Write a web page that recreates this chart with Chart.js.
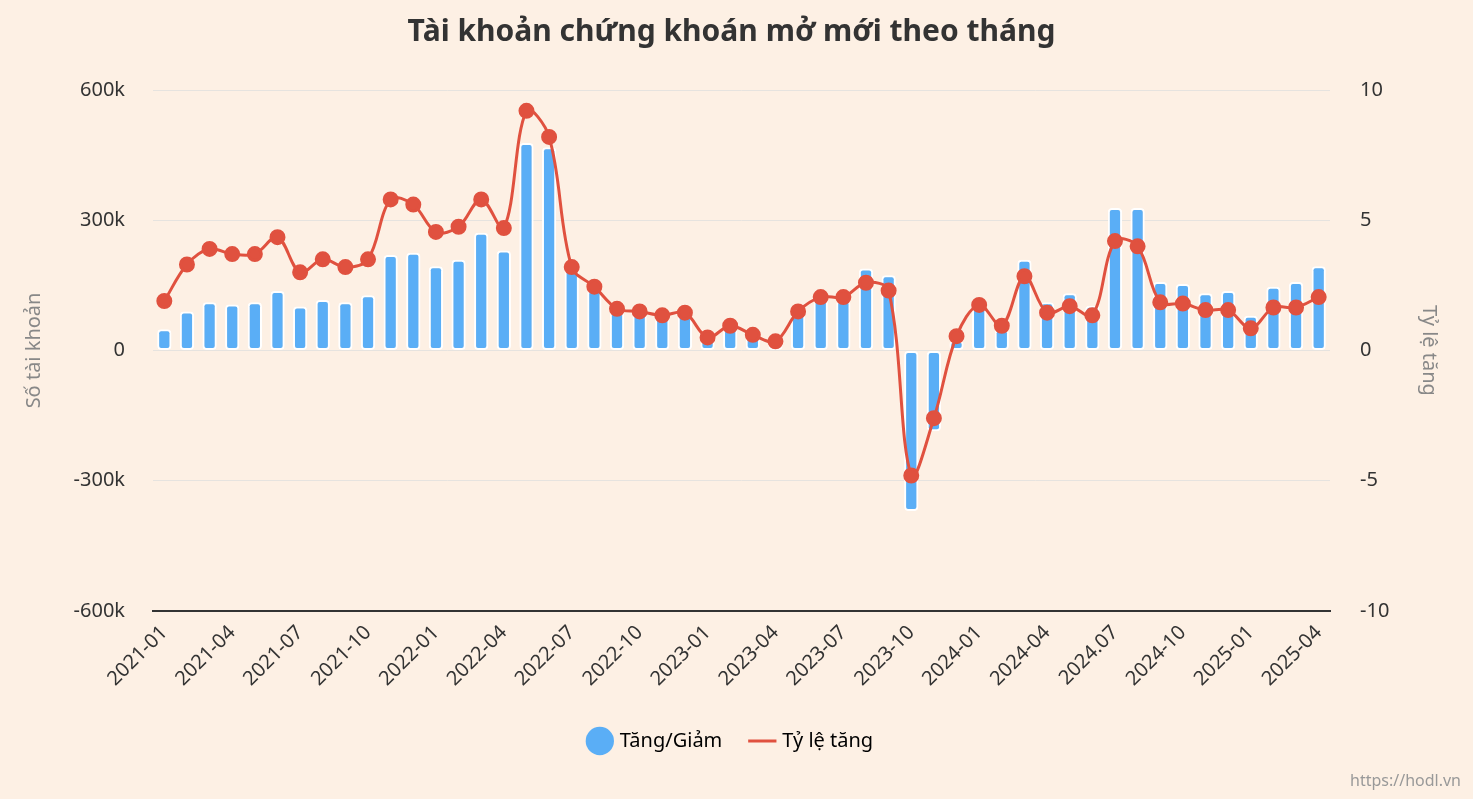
<!DOCTYPE html>
<html><head><meta charset="utf-8">
<script src="https://cdn.jsdelivr.net/npm/chart.js@4"></script>
<style>html,body{margin:0;background:#fdf0e4;}#w{position:relative;width:1473px;height:799px;}
#wm{position:absolute;right:12px;bottom:8px;font:16px "Noto Sans",sans-serif;color:#999;}</style>
</head><body><div id="w"><canvas id="c" width="1473" height="799"></canvas><div id="wm">https://hodl.vn</div></div>
<script>
const months = [];
for (let y=2021;y<=2025;y++) for (let m=1;m<=12;m++){ if(y===2025&&m>4)break; months.push(y+'-'+String(m).padStart(2,'0')); }
const tickLabels = months.map(m => m==='2024-07' ? '2024.07' : m);
const changeValues = [49,90,111,106,111,137,101,116,111,127,220,225,194,209,271,230,478,468,191,140,96,93,85,88,36,54,36,26,88,122,116,189,173,-370,-186,23,106,49,209,111,132,103,328,328,158,153,132,137,80,147,158,194].map(v=>v*1000);
const growthRate = [1.9,3.3,3.9,3.7,3.7,4.35,3.0,3.5,3.2,3.5,5.8,5.6,4.55,4.75,5.8,4.7,9.2,8.2,3.2,2.45,1.6,1.5,1.35,1.45,0.5,0.95,0.6,0.35,1.5,2.05,2.05,2.6,2.3,-4.8,-2.6,0.55,1.75,0.95,2.85,1.45,1.7,1.35,4.2,4.0,1.85,1.8,1.55,1.55,0.85,1.65,1.65,2.05];
const F='"Noto Sans", sans-serif';
new Chart(document.getElementById('c'),{
 data:{labels:tickLabels,datasets:[
  {type:'line',label:'Tỷ lệ tăng',data:growthRate,yAxisID:'y1',borderColor:'#e0513f',backgroundColor:'#e0513f',borderWidth:3,pointRadius:6.5,pointHoverRadius:6.5,tension:0.35,order:0},
  {type:'bar',label:'Tăng/Giảm',data:changeValues,yAxisID:'y',backgroundColor:'#5aaef6',borderColor:'#ffffff',borderWidth:2,borderRadius:4,borderSkipped:false,barPercentage:0.7,categoryPercentage:0.9,order:1}
 ]},
 options:{responsive:false,animation:false,
  layout:{padding:{left:18,right:28,top:14,bottom:38}},
  plugins:{title:{display:true,text:'Tài khoản chứng khoán mở mới theo tháng',font:{family:F,size:30,weight:'bold'},color:'#333',padding:{bottom:40}},
   legend:{position:'bottom',labels:{usePointStyle:true,font:{family:F,size:20},color:'#333',padding:30,
     generateLabels:(ch)=>[{text:'Tăng/Giảm',fillStyle:'#5aaef6',strokeStyle:'#5aaef6',pointStyle:'circle',datasetIndex:1,lineWidth:0},{text:'Tỷ lệ tăng',fillStyle:'#e0513f',strokeStyle:'#e0513f',pointStyle:'line',datasetIndex:0,lineWidth:3}]}}},
  scales:{
   x:{grid:{display:false,drawTicks:false},border:{color:'#333',width:2},ticks:{padding:10,autoSkip:false,maxRotation:45,minRotation:45,font:{family:F,size:20},color:'#333',callback:function(v,i){return i%3===0?this.getLabelForValue(v):'';}}},
   y:{min:-600000,max:600000,afterFit:s=>{s.width=135;},ticks:{padding:28,stepSize:300000,font:{family:F,size:20},color:'#333',callback:v=>v===0?'0':(v/1000)+'k'},grid:{color:'#e6e3df',drawTicks:false},border:{display:false},title:{display:true,text:'Số tài khoản',font:{family:F,size:20},color:'#888'}},
   y1:{position:'right',min:-10,max:10,afterFit:s=>{s.width=115;},ticks:{padding:30,stepSize:5,font:{family:F,size:20},color:'#333'},grid:{display:false,drawTicks:false},border:{display:false},title:{display:true,text:'Tỷ lệ tăng',font:{family:F,size:20},color:'#888'}}
  }}
});
</script></body></html>
